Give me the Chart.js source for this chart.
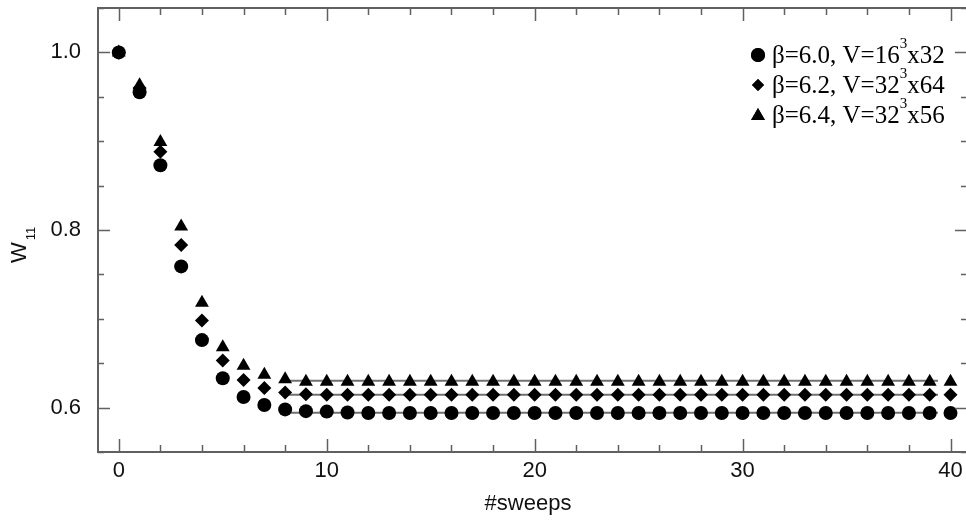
<!DOCTYPE html>
<html>
<head>
<meta charset="utf-8">
<script src="https://cdn.jsdelivr.net/npm/chart.js@4/dist/chart.umd.min.js"></script>
<style>
  html, body { margin: 0; padding: 0; background: #fff; overflow: hidden; }
  #wrap { width: 966px; height: 523px; }
</style>
</head>
<body>
<div id="wrap"><canvas id="chart" width="966" height="523"></canvas></div>
<script>
// #sweeps 0..40
const sweeps = [];
for (let i = 0; i <= 40; i++) sweeps.push(i);

// W11 per sweep
const w60 = [1.000, 0.955, 0.873, 0.759, 0.676, 0.633, 0.612, 0.603, 0.598, 0.596,
  0.5955, 0.5945, 0.594, 0.594, 0.594, 0.594, 0.594, 0.594, 0.594, 0.594,
  0.594, 0.594, 0.594, 0.594, 0.594, 0.594, 0.594, 0.594, 0.594, 0.594,
  0.594, 0.594, 0.594, 0.594, 0.594, 0.594, 0.594, 0.594, 0.594, 0.594, 0.594];
const w62 = [1.000, 0.960, 0.888, 0.783, 0.698, 0.653, 0.631, 0.622, 0.617, 0.615,
  0.6145, 0.6145, 0.6145, 0.6145, 0.6145, 0.6145, 0.6145, 0.6145, 0.6145, 0.6145,
  0.6145, 0.6145, 0.6145, 0.6145, 0.6145, 0.6145, 0.6145, 0.6145, 0.6145, 0.6145,
  0.6145, 0.6145, 0.6145, 0.6145, 0.6145, 0.6145, 0.6145, 0.6145, 0.6145, 0.6145, 0.6145];
const w64 = [1.000, 0.963, 0.899, 0.804, 0.718, 0.668, 0.647, 0.637, 0.632, 0.629,
  0.629, 0.629, 0.629, 0.629, 0.629, 0.629, 0.629, 0.629, 0.629, 0.629,
  0.629, 0.629, 0.629, 0.629, 0.629, 0.629, 0.629, 0.629, 0.629, 0.629,
  0.629, 0.629, 0.629, 0.629, 0.629, 0.629, 0.629, 0.629, 0.629, 0.629, 0.629];

// plateau fit lines
const fitX = [8, 41];
const fit60 = 0.5941;
const fit62 = 0.6146;
const fit64 = 0.6303;

const xTicks = [0, 10, 20, 30, 40];
const yTicks = [0.6, 0.8, 1.0];

// legend text pieces: before superscript, superscript, after
const legendItems = [
  ['\u03b2=6.0, V=16', '3', 'x32', 'circle'],
  ['\u03b2=6.2, V=32', '3', 'x64', 'rectRot'],
  ['\u03b2=6.4, V=32', '3', 'x56', 'triangle']
];

const pts = arr => sweeps.map((s, i) => ({x: s, y: arr[i]}));
const line = v => fitX.map(x => ({x: x, y: v}));

function markerSet(label, arr, style, r) {
  return {
    label: label, data: pts(arr), showLine: false,
    pointStyle: style, pointRadius: r, pointHoverRadius: r,
    pointBackgroundColor: '#000', pointBorderColor: '#000', pointBorderWidth: 0
  };
}
function fitSet(v) {
  return {
    data: line(v), showLine: true, pointRadius: 0, borderColor: '#707070',
    borderWidth: 2, order: 1, clip: {left: 0, top: 0, right: -20, bottom: 0}
  };
}

const frame = {
  id: 'frame',
  afterDraw(chart) {
    const {ctx, chartArea: a, scales: {x, y}} = chart;
    // the right axis sits just past the picture edge
    const rightAxis = a.right + 9;
    ctx.save();
    ctx.strokeStyle = '#606060';
    ctx.lineWidth = 2;
    ctx.beginPath();
    ctx.moveTo(rightAxis, a.top); ctx.lineTo(a.left, a.top);
    ctx.lineTo(a.left, a.bottom); ctx.lineTo(rightAxis, a.bottom);
    ctx.stroke();
    ctx.lineWidth = 1.5;
    ctx.beginPath();
    for (let v = 0; v <= 40; v += 2) {
      const px = Math.round(x.getPixelForValue(v)) + 0.5;
      const len = v % 10 === 0 ? 13 : 7;
      ctx.moveTo(px, a.bottom); ctx.lineTo(px, a.bottom - len);
      ctx.moveTo(px, a.top); ctx.lineTo(px, a.top + len);
    }
    for (let k = 11; k <= 21; k++) {
      const v = k * 0.05;
      const py = Math.round(y.getPixelForValue(v)) + 0.5;
      const len = k % 4 === 0 ? 12 : 6;
      ctx.moveTo(a.left, py); ctx.lineTo(a.left + len, py);
      ctx.moveTo(rightAxis, py); ctx.lineTo(rightAxis - len, py);
    }
    ctx.stroke();

    // y axis title W11
    ctx.fillStyle = '#111';
    ctx.translate(26, 263);
    ctx.rotate(-Math.PI / 2);
    ctx.textBaseline = 'alphabetic';
    ctx.textAlign = 'left';
    ctx.font = '22px "Liberation Sans", Arial, sans-serif';
    ctx.fillText('W', 0, 0);
    const ww = ctx.measureText('W').width;
    ctx.font = '13px "Liberation Sans", Arial, sans-serif';
    ctx.fillText('11', ww + 2, 9);
    ctx.restore();

    // legend
    ctx.save();
    ctx.fillStyle = '#000';
    ctx.textBaseline = 'middle';
    ctx.textAlign = 'left';
    legendItems.forEach((it, i) => {
      const cy = 55 + i * 30;
      const r = it[3] === 'rectRot' ? 6 : (it[3] === 'triangle' ? 8 : 7);
      ctx.fillStyle = '#000';
      ctx.strokeStyle = '#000';
      Chart.helpers.drawPoint(ctx, {pointStyle: it[3], radius: r, borderWidth: 0}, 758, cy + (it[3] === 'triangle' ? 1 : 0));
      ctx.fill();
      let tx = 772;
      ctx.font = '25px "Liberation Serif", "Times New Roman", serif';
      ctx.fillText(it[0], tx, cy + 1);
      tx += ctx.measureText(it[0]).width;
      ctx.font = '15px "Liberation Serif", "Times New Roman", serif';
      ctx.fillText(it[1], tx, cy - 11);
      tx += ctx.measureText(it[1]).width;
      ctx.font = '25px "Liberation Serif", "Times New Roman", serif';
      ctx.fillText(it[2], tx, cy + 1);
    });
    ctx.restore();
  }
};

const ctx = document.getElementById('chart').getContext('2d');
new Chart(ctx, {
  type: 'scatter',
  data: {
    datasets: [
      markerSet('\u03b2=6.0, V=16\u00b3x32', w60, 'circle', 7),
      markerSet('\u03b2=6.2, V=32\u00b3x64', w62, 'rectRot', 7),
      markerSet('\u03b2=6.4, V=32\u00b3x56', w64, 'triangle', 8),
      fitSet(fit60), fitSet(fit62), fitSet(fit64)
    ]
  },
  options: {
    responsive: false,
    animation: false,
    layout: {padding: {top: 5, left: 0, right: 0, bottom: 0}},
    plugins: {legend: {display: false}, tooltip: {enabled: false}},
    scales: {
      x: {
        type: 'linear', min: -1, max: 40.36,
        afterBuildTicks: s => { s.ticks = xTicks.map(v => ({value: v})); },
        afterFit: s => { s.height = 71; s.paddingLeft = 0; s.paddingRight = 0; },
        grid: {display: false, drawTicks: false},
        border: {display: false},
        ticks: {padding: 6, color: '#111', font: {family: '"Liberation Sans", Arial, sans-serif', size: 22},
          callback: v => String(v), maxRotation: 0},
        title: {display: true, text: '#sweeps', color: '#111', padding: {top: 0, bottom: 6},
          font: {family: '"Liberation Sans", Arial, sans-serif', size: 22}}
      },
      y: {
        type: 'linear', min: 0.55, max: 1.05,
        afterBuildTicks: s => { s.ticks = yTicks.map(v => ({value: v})); },
        afterFit: s => { s.width = 98; s.paddingTop = 0; s.paddingBottom = 0; },
        grid: {display: false, drawTicks: false},
        border: {display: false},
        ticks: {padding: 17, color: '#111', font: {family: '"Liberation Sans", Arial, sans-serif', size: 22},
          callback: v => v.toFixed(1)}
      }
    }
  },
  plugins: [frame]
});
</script>
</body>
</html>
